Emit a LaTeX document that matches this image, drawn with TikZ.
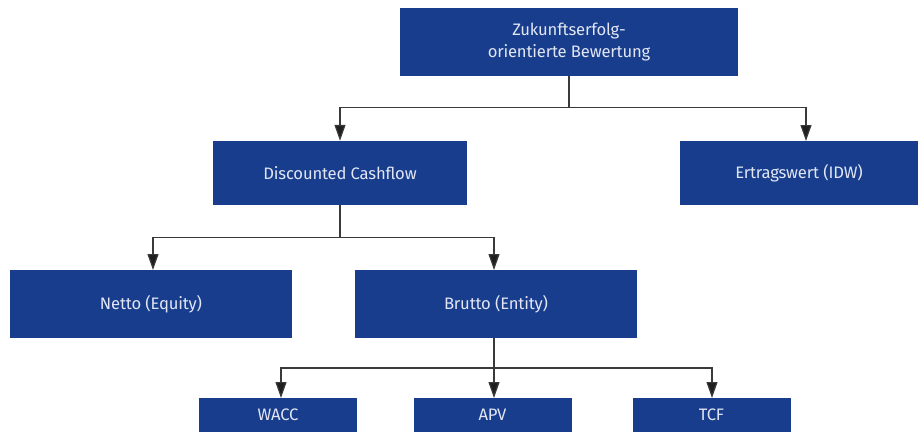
\documentclass[tikz,border=0pt]{standalone}
\usepackage{fontspec}
\setmainfont{Fira Sans}[Scale=0.95]
\usetikzlibrary{arrows.meta, positioning}
\definecolor{boxblue}{HTML}{173D8C}
\definecolor{boxtext}{HTML}{E2E6F4}
\definecolor{linegray}{HTML}{3A3A3A}

\begin{document}
\begin{tikzpicture}[
  x=1pt, y=-1pt,
  font=\fontsize{17.5}{22.5}\selectfont\addfontfeatures{LetterSpace=-1},
  >={Triangle[length=16pt, width=11pt, fill=black!88]},
  box/.style={fill=boxblue, text=boxtext, align=center, inner sep=0pt},
  big/.style={box, minimum width=282pt, minimum height=68pt},
  mid/.style={box, minimum width=254pt, minimum height=64pt},
  small/.style={box, minimum width=158pt, minimum height=34pt},
  bus/.style={draw=linegray, line width=1.2pt},
  arr/.style={->, bus},
]
\useasboundingbox (0,0) rectangle (922,434);

% ============ NODES ============

% top level
\node[box, minimum width=338pt, minimum height=68pt] (zuk) at (569,42)
  {Zukunftserfolg-\\orientierte Bewertung};

% second level
\node[mid] (dcf) at (340,173) {Discounted Cashflow};
\node[mid, minimum width=238pt] (ertrag) at (799,173) {Ertragswert (IDW)};

% third level
\node[big] (netto)  at (151,304) {Netto (Equity)};
\node[big] (brutto) at (496,304) {Brutto (Entity)};

% fourth level
\node[small] (wacc) at (278,415) {WACC};
\node[small] (apv)  at (492.5,415) {APV};
\node[small] (tcf)  at (711.5,415) {TCF};

% ============ ARROWS ============

\draw[bus] (zuk.south) -- ++(0,31) coordinate (b1);
\draw[arr] (b1) -| (dcf.north);
\draw[arr] (b1) -| (806,141);

\draw[bus] (dcf.south) -- ++(0,32) coordinate (b2);
\draw[arr] (b2) -| (153,270);
\draw[arr] (b2) -| (494,270);

\draw[bus] (494,338) -- ++(0,30) coordinate (b3);
\draw[arr] (b3) -| (281,398);
\draw[arr] (b3) -- (494,398);
\draw[arr] (b3) -| (712,398);

\end{tikzpicture}
\end{document}
